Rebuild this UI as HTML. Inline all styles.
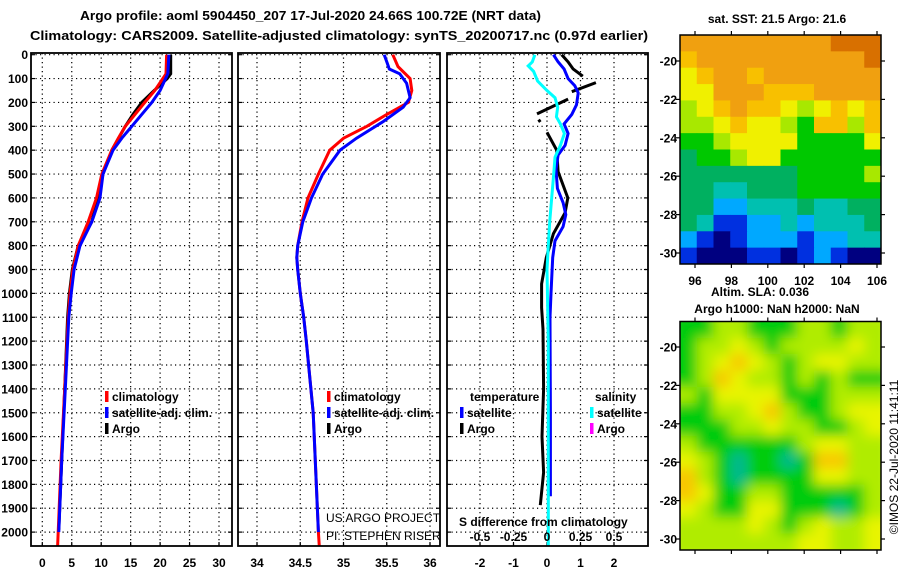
<!DOCTYPE html>
<html><head><meta charset="utf-8"><style>
html,body{margin:0;padding:0;background:#fff;}
svg{display:block;font-family:"Liberation Sans",Arial,sans-serif;}
.b{font-weight:bold;font-size:12px;}
.t{font-weight:bold;font-size:13px;}
</style></head><body>
<svg id="fig" width="900" height="580" viewBox="0 0 900 580" xmlns="http://www.w3.org/2000/svg">
<text class="t" x="80" y="20" textLength="461" lengthAdjust="spacingAndGlyphs">Argo profile: aoml 5904450_207 17-Jul-2020 24.66S 100.72E (NRT data)</text>
<text class="t" x="30" y="40" textLength="618" lengthAdjust="spacingAndGlyphs">Climatology: CARS2009. Satellite-adjusted climatology: synTS_20200717.nc (0.97d earlier)</text>
</svg>
<script>
// ---- data ----
const depthTicks=[0,100,200,300,400,500,600,700,800,900,1000,1100,1200,1300,1400,1500,1600,1700,1800,1900,2000];
const tTicks=[0,5,10,15,20,25,30];
const sTicks=[34,34.5,35,35.5,36];
const sTickLabels=["34","34.5","35","35.5","36"];
const dTicks=[-2,-1,0,1,2];
const dSTicks=[-0.5,-0.25,0,0.25,0.5];
const dSTickLabels=["-0.5","-0.25","0","0.25","0.5"];

const tClimDepth=[0,80,150,200,300,350,400,500,600,700,800,900,1000,1100,1400,1700,2000,2060];
const tClim=[21.1,21,19.1,17.4,14.1,12.9,11.8,10.1,9.2,7.8,6.1,5.2,4.7,4.4,3.8,3.2,2.7,2.6];
const tSatDepth=[0,80,150,200,300,350,400,500,600,700,800,900,1000,1100,1400,1700,2000];
const tSat=[21.5,21.3,20,18.6,15.2,13.5,12.0,10.3,9.8,8.4,6.4,5.4,4.9,4.5,3.9,3.3,2.8];
const tArgoDepth=[0,80,100,150,200,250,300,400,500,600,700,800,900,1000,1100,1400,1700,1990];
const tArgo=[21.8,21.8,21.2,19,16.9,15.4,14.1,11.8,10.3,9.4,8.4,6.1,5.1,4.6,4.3,3.8,3.3,2.8];

const sClimDepth=[0,50,100,150,200,250,300,350,400,500,600,700,800,850,900,1000,1100,1200,1500,2000,2060];
const sClim=[35.57,35.63,35.77,35.79,35.75,35.50,35.27,35.0,34.84,34.71,34.59,34.52,34.47,34.46,34.47,34.5,34.54,34.57,34.65,34.71,34.72];
const sSatDepth=[0,30,60,80,120,180,220,280,350,400,500,600,700,800,850,900,1000,1100,1200,1500,2000];
const sSat=[35.47,35.5,35.53,35.65,35.73,35.77,35.69,35.46,35.15,34.96,34.76,34.63,34.53,34.47,34.46,34.47,34.5,34.54,34.57,34.65,34.71];

const dTSatDepth=[0,30,60,100,130,160,210,250,290,330,380,420,480,560,620,670,720,780,850,1000,1100,1500,1850];
const dTSat=[0.19,0.33,0.51,0.63,0.83,0.93,0.88,0.74,0.51,0.63,0.54,0.33,0.27,0.31,0.48,0.56,0.48,0.24,0.17,0.12,0.09,0.1,0.1];
const dTArgoDepth=[0,30,60,90,null,117,155,null,186,248,null,272,282,null,325,400,490,600,662,750,850,960,1060,1150,1400,1600,1750,1887];
const dTArgo=[0.44,0.63,0.78,1.07,null,1.46,0.74,null,0.63,-0.3,null,-0.25,-0.2,null,0,0.29,0.33,0.62,0.54,0.19,-0.02,-0.16,-0.16,-0.12,-0.1,-0.15,-0.1,-0.2];
const dSSatDepth=[0,30,47,70,110,150,180,220,260,290,330,380,430,500,600,700,800,900,1200,1600,2060];
const dSSat=[-0.09,-0.11,-0.14,-0.10,-0.07,0,0.06,0.08,0.07,0.10,0.13,0.10,0.06,0.05,0.035,0.02,0.01,0,0.01,0.01,0.01];

const sstGrid=[
[9,9,9,9,9,9,9,9,9,10,10,10],
[8,9,9,9,9,9,9,9,9,9,9,10],
[7,8,9,9,8,9,9,9,9,9,9,9],
[7,7,9,9,9,8,8,8,9,9,9,9],
[6,7,8,9,8,8,7,6,7,8,7,8],
[6,6,7,8,7,7,6,5,8,8,6,8],
[5,5,6,7,7,7,7,5,5,5,5,7],
[4,5,5,6,7,7,5,5,5,5,5,5],
[4,4,4,4,4,4,4,5,5,5,5,6],
[4,4,3,3,4,4,4,5,5,5,5,5],
[4,4,2,2,3,3,3,4,3,3,4,4],
[4,3,1,1,2,2,3,2,3,3,3,4],
[2,1,0,1,2,2,2,1,2,2,3,3],
[1,0,0,0,1,1,0,1,2,1,0,0]];
const slaGrid=[
[1,1,2,2,1,1,1,2,2,1,2,2],
[1,2,2,3,2,1,2,2,2,2,3,2],
[1,2,3,4,3,2,1,2,3,3,2,2],
[1,2,4,3,2,2,1,2,1,2,1,1],
[2,1,3,3,3,3,1,1,1,2,2,2],
[1,1,2,2,3,4,2,1,1,2,3,3],
[1,1,1,2,2,3,2,2,1,1,2,3],
[2,1,1,1,1,1,1,2,3,3,2,2],
[3,2,1,0,1,1,0,1,4,4,2,2],
[4,2,1,0,1,1,1,1,3,3,2,2],
[4,3,1,1,2,2,1,1,1,1,1,2],
[3,2,1,1,3,3,1,1,1,0,1,2],
[2,2,2,2,3,2,1,2,3,2,2,3],
[2,2,2,2,2,2,2,3,3,2,2,3]];
const latTicks=[-20,-22,-24,-26,-28,-30];
const lonTicks=[96,98,100,102,104,106];

// ---- helpers ----
const NS="http://www.w3.org/2000/svg";
const svg=document.getElementById('fig');
function el(tag,attrs,parent){const e=document.createElementNS(NS,tag);for(const k in attrs)e.setAttribute(k,attrs[k]);(parent||svg).appendChild(e);return e;}
const yD=d=>54.7+d*0.2387;
const TOP=53,BOT=546;
const panels=[
 {l:31,r:232,x:v=>42.3+v*5.89,name:'temperature-panel'},
 {l:238,r:440,x:v=>257+(v-34)*86.5,name:'salinity-panel'},
 {l:447,r:648,x:v=>547+v*33.5,name:'difference-panel'}];
const xS=v=>547+v*134;

const defs=el('defs',{});
panels.forEach((p,i)=>{const c=el('clipPath',{id:'clip'+i},defs);el('rect',{x:p.l,y:TOP,width:p.r-p.l,height:BOT-TOP},c);});

function grid(p,ticks){
 const g=el('g',{});
 
 
 depthTicks.forEach(d=>{const y=yD(d);
  el('line',{x1:p.l,x2:p.r,y1:y,y2:y,stroke:'#000','stroke-width':1.2,'stroke-dasharray':'1.2 3.3'},g);
  el('line',{x1:p.l,x2:p.l+4,y1:y,y2:y,stroke:'#000','stroke-width':1.2},g);
  el('line',{x1:p.r-4,x2:p.r,y1:y,y2:y,stroke:'#000','stroke-width':1.2},g);});
 ticks.forEach(v=>{const x=p.x(v);
  el('line',{x1:x,x2:x,y1:TOP,y2:BOT,stroke:'#000','stroke-width':1.2,'stroke-dasharray':'1.2 3.3'},g);
  el('line',{x1:x,x2:x,y1:BOT-4,y2:BOT,stroke:'#000','stroke-width':1.2},g);});
}
function line(p,i,depths,vals,color,name,xf){
 let d='',pen=false;
 for(let k=0;k<depths.length;k++){
  if(depths[k]===null){pen=false;continue;}
  const x=(xf||p.x)(vals[k]),y=yD(depths[k]);
  d+=(pen?'L':'M')+x.toFixed(1)+' '+y.toFixed(1);pen=true;}
 const e=el('path',{d:d,fill:'none',stroke:color,'stroke-width':3,'clip-path':'url(#clip'+i+')'});
 
 
}
function frame(p){
 const r=el('rect',{x:p.l,y:TOP,width:p.r-p.l,height:BOT-TOP,fill:'none',stroke:'#000','stroke-width':1.8});
 
 
}
function txt(x,y,s,cls,anchor,name){const t=el('text',{x:x,y:y,'text-anchor':anchor||'start'});if(cls)t.setAttribute('class',cls);t.textContent=s;
 
 return t;}
function leg(x,y,color,label,name){
 const r=el('rect',{x:x,y:y-10,width:3.5,height:11,fill:color});
 
 
 if(label)txt(x+7,y,label,'b','start',name+'-label');
}

// panel 1
grid(panels[0],tTicks);
line(panels[0],0,tArgoDepth,tArgo,'#000','temp-argo-line');
line(panels[0],0,tClimDepth,tClim,'#f00','temp-climatology-line');
line(panels[0],0,tSatDepth,tSat,'#00f','temp-satellite-line');
frame(panels[0]);
depthTicks.forEach(d=>txt(28,yD(d)+4.5,String(d),'b','end','depth-label'));
tTicks.forEach(v=>txt(panels[0].x(v),567,String(v),'b','middle','temp-tick-label'));
leg(105,401,'#f00','climatology','legend-climatology');
leg(105,417,'#00f','satellite-adj. clim.','legend-satellite');
leg(105,433,'#000','Argo','legend-argo');

// panel 2
grid(panels[1],sTicks);
line(panels[1],1,sClimDepth,sClim,'#f00','sal-climatology-line');
line(panels[1],1,sSatDepth,sSat,'#00f','sal-satellite-line');
frame(panels[1]);
sTicks.forEach((v,k)=>txt(panels[1].x(v),567,sTickLabels[k],'b','middle','sal-tick-label'));
leg(327,401,'#f00','climatology','legend2-climatology');
leg(327,417,'#00f','satellite-adj. clim.','legend2-satellite');
leg(327,433,'#000','Argo','legend2-argo');
const cp=el('g',{'clip-path':'url(#clip1)'});
const t1=el('text',{x:326,y:522,'font-size':'12px'},cp);t1.textContent='US ARGO PROJECT';
const t2=el('text',{x:326,y:540,'font-size':'12px'},cp);t2.textContent='PI: STEPHEN RISER';



// panel 3
grid(panels[2],dTicks);
line(panels[2],2,dTArgoDepth,dTArgo,'#000','tdiff-argo-line');
line(panels[2],2,dTSatDepth,dTSat,'#00f','tdiff-satellite-line');
line(panels[2],2,dSSatDepth,dSSat,'#0ff','sdiff-satellite-line',xS);
frame(panels[2]);
dTicks.forEach(v=>txt(panels[2].x(v),567,String(v),'b','middle','diff-tick-label'));
txt(470,401,'temperature','b','start','legend3-temperature-heading');
txt(595,401,'salinity','b','start','legend3-salinity-heading');
leg(460,417,'#00f','satellite','legend3-t-satellite');
leg(460,433,'#000','Argo','legend3-t-argo');
leg(590,417,'#0ff','satellite','legend3-s-satellite');
leg(590,433,'#f0f','Argo','legend3-s-argo');
txt(459,526,'S difference from climatology','b','start','sdiff-axis-title');
dSTicks.forEach((v,k)=>txt(xS(v),541,dSTickLabels[k],'b','middle','sdiff-tick-label'));

// maps
const sstColors=['#000080','#0030e0','#00a8ff','#00c0b0','#00b060','#00c800','#a8e800','#f0f000','#f8c000','#f0a010','#d87000'];
const slaColors=['#00b890','#00cc10','#b0ec00','#e8f400','#f8c800'];
const MX0=680,MW=201;
const lonX=v=>695+(v-96)*18.2;
function drawMap(grid,colors,y0,h,name,blur,yLat){
 const x0=MX0,w=MW;
 const g=el('g',{});
 
 
 const cp=el('clipPath',{id:'c'+name},defs);el('rect',{x:x0,y:y0,width:w,height:h},cp);
 const inner=el('g',{'clip-path':'url(#c'+name+')'},g);
 const inner2=el('g',blur?{filter:'url(#blur)'}:{},inner);
 const rows=grid.length,cols=grid[0].length,cw=w/cols,ch=h/rows;
 grid.forEach((row,r)=>row.forEach((v,c)=>{
  let xx=x0+c*cw,yy=y0+r*ch,ww=cw+0.5,hh=ch+0.5;
  if(blur){if(c==0){xx-=10;ww+=10;}if(c==cols-1)ww+=10;if(r==0){yy-=10;hh+=10;}if(r==rows-1)hh+=10;}
  const rc=el('rect',{x:xx,y:yy,width:ww,height:hh,fill:colors[v]},inner2);
  
  
 }));
 el('rect',{x:x0,y:y0,width:w,height:h,fill:'none',stroke:'#000','stroke-width':1.5},g);
 latTicks.forEach(v=>{const y=yLat(v);
  el('line',{x1:x0-4,x2:x0,y1:y,y2:y,stroke:'#000','stroke-width':1.2},g);
  el('line',{x1:x0+w,x2:x0+w+4,y1:y,y2:y,stroke:'#000','stroke-width':1.2},g);
  txt(x0-3,y+4.5,String(v),'b','end','lat-label');});
 lonTicks.forEach(v=>{const x=lonX(v);
  el('line',{x1:x,x2:x,y1:y0-4,y2:y0,stroke:'#000','stroke-width':1.2},g);
  el('line',{x1:x,x2:x,y1:y0+h,y2:y0+h+4,stroke:'#000','stroke-width':1.2},g);});
}
const fd=el('filter',{id:'blur',x:'-10%',y:'-10%',width:'120%',height:'120%'},defs);
el('feGaussianBlur',{stdDeviation:6},fd);
drawMap(sstGrid,sstColors,35,229,'sst-map',false,v=>61+(-20-v)*19.2);
drawMap(slaGrid,slaColors,321.5,228.5,'sla-map',true,v=>347+(-20-v)*19.2);
lonTicks.forEach(v=>txt(lonX(v),285,String(v),'b','middle','lon-label'));
txt(777,23,'sat. SST: 21.5 Argo: 21.6','b','middle','sst-map-title');
txt(760,296,'Altim. SLA: 0.036','b','middle','sla-map-title');
txt(777,313,'Argo h1000: NaN h2000: NaN','b','middle','argo-height-title');
const rt=el('text',{x:0,y:0,'font-size':'12px','text-anchor':'middle',transform:'translate(898,457) rotate(-90)'});
rt.textContent='©IMOS 22-Jul-2020 11:41:11';


</script>
</body></html>
